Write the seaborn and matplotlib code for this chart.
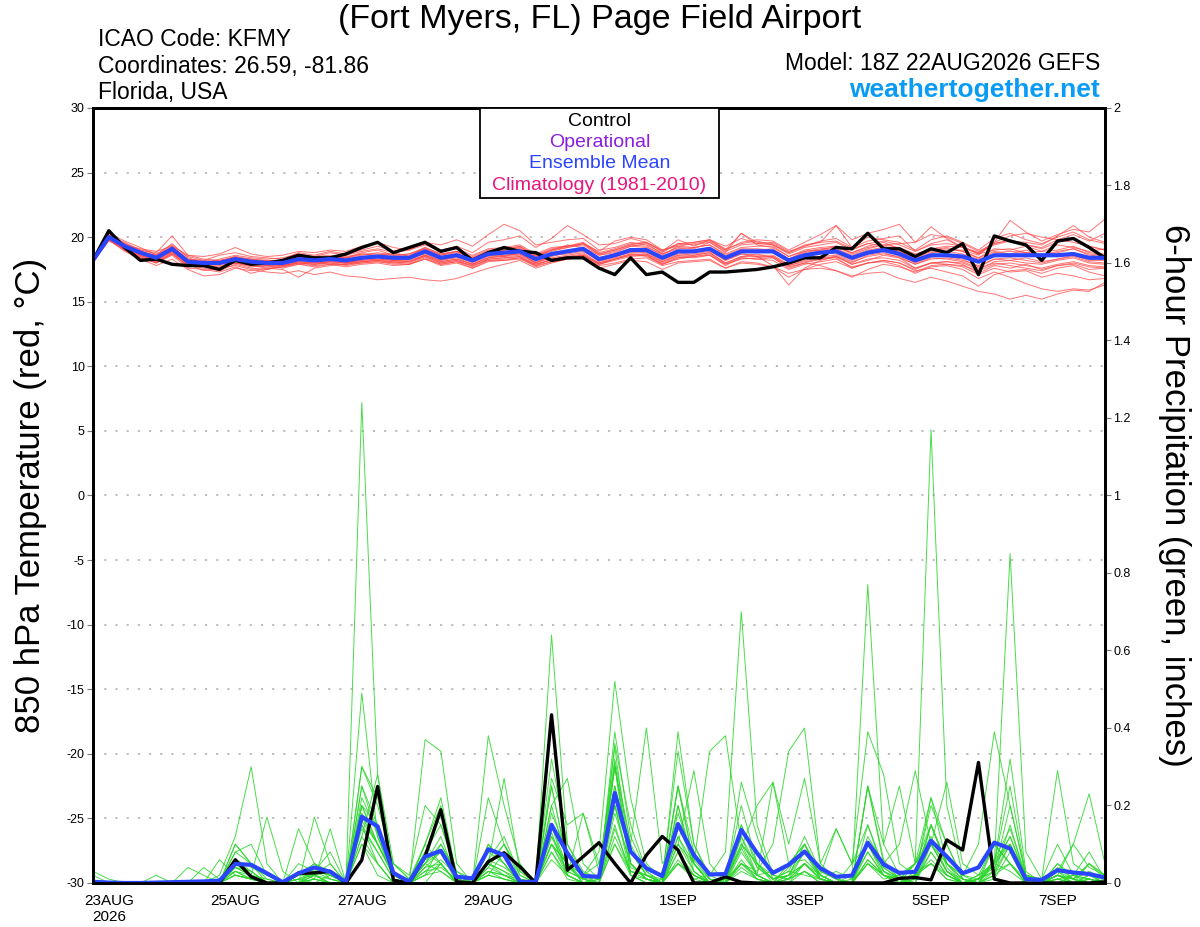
import matplotlib
matplotlib.use('Agg')
import matplotlib.pyplot as plt
from matplotlib.patches import Rectangle
from matplotlib.ticker import FuncFormatter
import pandas as pd
import seaborn as sns

# GEFS 18Z 22AUG2026 run, 6-hourly steps out to 384h
times = pd.date_range('2026-08-22 18:00', periods=65, freq='6h')

tick_dates = pd.to_datetime(['2026-08-23', '2026-08-25', '2026-08-27', '2026-08-29',
                             '2026-09-01', '2026-09-03', '2026-09-05', '2026-09-07'])
tick_labels = ['23AUG\n2026', '25AUG', '27AUG', '29AUG', '1SEP', '3SEP', '5SEP', '7SEP']

temp_ticks = [-30, -25, -20, -15, -10, -5, 0, 5, 10, 15, 20, 25, 30]
precip_ticks = [0, 0.2, 0.4, 0.6, 0.8, 1, 1.2, 1.4, 1.6, 1.8, 2]

legend_labels = ['Control', 'Operational', 'Ensemble Mean', 'Climatology (1981-2010)']
legend_colors = ['black', '#8a1fe0', '#2a45ff', '#e8157d']

##### 850 hPa temperature (C) #####
control_temp = [18.2, 20.5, 19.2, 18.2, 18.3, 17.9, 17.8, 17.8, 17.5, 18.2, 17.9, 18.0, 18.2,
                18.6, 18.4, 18.4, 18.7, 19.2, 19.6, 18.8, 19.2, 19.6, 18.9, 19.2, 18.2, 18.8,
                19.2, 18.9, 18.8, 18.2, 18.4, 18.4, 17.6, 17.1, 18.4, 17.1, 17.3, 16.5, 16.5,
                17.3, 17.3, 17.4, 17.5, 17.7, 18.0, 18.4, 18.4, 19.2, 19.1, 20.3, 19.1, 19.1,
                18.5, 19.1, 18.8, 19.5, 17.1, 20.1, 19.7, 19.4, 18.2, 19.7, 19.9, 19.2, 18.4]

mean_temp = [18.2, 20.0, 19.3, 18.8, 18.4, 19.1, 18.1, 18.0, 18.0, 18.3, 18.1, 18.0, 18.0,
             18.3, 18.2, 18.3, 18.2, 18.4, 18.5, 18.4, 18.4, 18.9, 18.4, 18.6, 18.2, 18.7,
             18.8, 18.9, 18.3, 18.7, 18.9, 19.1, 18.3, 18.6, 19.0, 19.0, 18.4, 18.9, 18.9,
             19.1, 18.4, 18.9, 18.9, 18.9, 18.2, 18.6, 18.8, 18.9, 18.4, 18.8, 19.0, 18.7,
             18.2, 18.6, 18.6, 18.5, 18.1, 18.6, 18.6, 18.6, 18.6, 18.6, 18.7, 18.4, 18.4]

temp_m01 = [18.3, 20.2, 19.5, 19.0, 18.7, 19.4, 18.5, 18.2, 18.6, 18.8, 18.5, 18.4, 18.3,
            18.8, 18.6, 18.9, 18.7, 19.0, 19.3, 18.9, 19.1, 19.5, 19.0, 19.3, 18.8, 19.6,
            19.8, 20.1, 19.2, 19.9, 20.9, 20.2, 19.4, 19.5, 19.9, 19.6, 18.9, 19.8, 19.3,
            19.8, 19.0, 20.3, 19.6, 19.5, 18.8, 19.3, 19.6, 20.9, 19.2, 19.7, 19.9, 20.1,
            18.9, 19.5, 19.8, 19.2, 18.8, 19.6, 21.3, 20.4, 19.7, 20.2, 20.6, 20.4, 21.4]
temp_m02 = [18.1, 19.8, 19.0, 18.5, 18.0, 18.7, 17.8, 17.6, 17.4, 17.9, 17.6, 17.5, 17.7,
            17.9, 17.8, 17.9, 17.7, 17.9, 18.0, 17.8, 17.9, 18.3, 17.8, 18.0, 17.6, 18.1,
            18.2, 18.3, 17.8, 18.1, 18.3, 18.5, 17.8, 18.0, 18.3, 18.4, 17.8, 18.1, 18.2,
            18.3, 17.6, 18.0, 17.9, 17.7, 17.2, 17.5, 17.6, 17.4, 17.0, 17.2, 17.3, 16.8,
            16.5, 16.9, 16.6, 16.2, 15.8, 15.6, 15.2, 15.5, 15.2, 15.6, 15.9, 15.8, 16.5]
temp_m03 = [18.2, 19.9, 19.2, 18.6, 18.2, 18.9, 17.9, 17.4, 17.6, 17.8, 17.5, 17.3, 17.2,
            17.4, 17.1, 17.3, 17.0, 16.9, 16.7, 16.8, 16.9, 16.7, 16.6, 16.8, 17.2, 17.6,
            17.9, 18.2, 17.6, 18.0, 18.3, 18.6, 18.0, 18.4, 18.7, 18.5, 17.9, 18.4, 18.6,
            18.8, 18.0, 18.5, 18.7, 18.4, 17.6, 18.0, 18.3, 18.5, 17.9, 18.2, 18.6, 18.4,
            17.6, 18.0, 18.1, 17.9, 17.2, 17.8, 17.6, 17.9, 17.5, 17.8, 18.0, 17.7, 17.6]
temp_m04 = [18.2, 20.1, 19.6, 19.0, 18.8, 20.1, 18.6, 18.3, 18.2, 18.5, 18.3, 18.2, 18.1,
            18.6, 18.3, 18.4, 18.5, 18.7, 18.6, 18.8, 18.5, 19.2, 18.7, 18.9, 18.3, 18.9,
            19.0, 19.3, 18.5, 19.0, 19.4, 19.2, 18.6, 18.8, 19.3, 19.5, 18.7, 19.2, 19.1,
            19.6, 18.8, 20.3, 19.4, 19.2, 18.5, 18.9, 19.1, 19.2, 18.8, 19.3, 19.6, 19.1,
            18.6, 19.0, 19.2, 18.9, 18.4, 19.1, 19.0, 19.3, 18.9, 19.4, 19.2, 18.9, 19.1]
temp_m05 = [18.2, 19.9, 19.3, 18.9, 18.3, 19.0, 18.0, 17.9, 18.1, 18.2, 17.9, 17.8, 17.9,
            18.1, 18.0, 18.2, 18.0, 18.3, 18.4, 18.2, 18.3, 18.7, 18.2, 18.5, 18.0, 18.6,
            18.5, 18.8, 18.0, 18.5, 18.8, 19.0, 18.1, 18.5, 18.8, 18.9, 18.2, 18.7, 18.8,
            19.0, 18.2, 18.7, 18.5, 17.8, 16.3, 17.6, 18.2, 18.5, 18.0, 18.6, 18.8, 18.4,
            17.9, 18.3, 18.4, 18.2, 17.8, 18.3, 18.4, 18.2, 18.0, 18.3, 18.5, 18.1, 18.0]
temp_m06 = [18.3, 20.0, 19.4, 18.7, 18.5, 19.2, 18.3, 18.1, 17.9, 18.4, 18.2, 18.1, 18.2,
            18.4, 18.5, 18.6, 18.4, 18.8, 19.0, 18.6, 18.7, 19.1, 18.6, 18.9, 18.4, 18.9,
            19.1, 19.2, 18.6, 19.1, 19.3, 19.5, 18.7, 19.0, 19.4, 19.3, 18.6, 19.3, 19.5,
            19.7, 19.0, 19.6, 19.8, 19.7, 19.0, 19.6, 20.2, 20.9, 19.8, 20.3, 20.6, 21.0,
            19.6, 20.2, 20.0, 19.5, 18.9, 19.5, 19.8, 19.4, 19.1, 19.6, 19.9, 19.3, 19.0]
temp_m07 = [18.1, 19.7, 19.1, 18.4, 18.1, 18.8, 17.7, 17.8, 17.7, 18.0, 17.8, 17.7, 17.8,
            18.0, 17.9, 18.0, 17.8, 18.0, 18.1, 18.0, 17.9, 18.4, 17.9, 18.1, 17.8, 18.2,
            18.3, 18.4, 17.9, 18.3, 18.5, 18.6, 17.9, 18.2, 18.5, 18.6, 17.9, 18.3, 18.5,
            18.6, 17.8, 18.4, 18.3, 18.2, 17.5, 17.9, 18.1, 18.3, 17.7, 18.0, 18.2, 18.0,
            17.4, 17.6, 17.3, 17.0, 16.2, 17.1, 17.4, 17.5, 17.2, 17.6, 17.8, 17.3, 17.0]
temp_m08 = [18.2, 20.3, 19.7, 19.2, 18.6, 19.5, 18.4, 18.0, 18.3, 18.6, 18.4, 18.3, 18.4,
            18.7, 18.5, 18.8, 18.6, 18.9, 19.1, 18.8, 19.0, 19.6, 19.4, 19.8, 19.3, 20.2,
            21.0, 20.5, 19.4, 19.6, 19.8, 19.9, 19.0, 19.2, 19.6, 19.4, 18.8, 19.5, 19.4,
            19.6, 18.9, 19.4, 19.5, 19.6, 18.9, 19.3, 19.7, 19.9, 19.2, 20.0, 19.8, 19.6,
            19.0, 19.8, 20.1, 19.6, 19.0, 19.9, 20.3, 19.8, 19.5, 20.0, 20.4, 19.8, 19.5]
temp_m09 = [18.2, 19.8, 18.9, 18.3, 17.8, 18.3, 17.5, 17.0, 17.1, 17.6, 17.4, 17.6, 17.5,
            16.9, 17.6, 17.8, 17.9, 18.1, 18.2, 18.0, 18.1, 18.6, 18.1, 18.3, 17.9, 18.4,
            18.6, 18.7, 18.0, 18.6, 18.9, 19.0, 18.2, 18.6, 19.0, 19.1, 18.4, 19.0, 18.9,
            19.2, 18.4, 18.9, 19.0, 18.8, 18.1, 18.5, 18.8, 18.7, 18.2, 18.7, 19.0, 18.6,
            18.0, 18.5, 18.5, 18.3, 17.7, 18.3, 18.2, 18.4, 18.1, 18.3, 18.6, 18.2, 18.2]
temp_m10 = [18.2, 20.0, 19.2, 18.8, 18.5, 19.1, 18.2, 18.1, 18.0, 18.3, 18.0, 17.9, 18.0,
            18.2, 18.1, 18.3, 18.2, 18.4, 18.5, 18.3, 18.4, 18.8, 18.3, 18.6, 18.1, 18.7,
            18.8, 18.9, 18.2, 18.7, 19.0, 19.2, 18.3, 18.7, 19.1, 19.0, 18.3, 18.9, 19.0,
            19.2, 18.5, 19.0, 19.0, 19.1, 18.3, 18.8, 19.0, 19.3, 18.7, 19.1, 19.4, 19.5,
            19.6, 20.8, 19.9, 19.2, 18.7, 19.0, 19.1, 18.8, 18.9, 19.0, 19.3, 18.8, 18.7]
temp_m11 = [18.2, 19.9, 19.0, 18.6, 18.1, 18.8, 17.9, 17.7, 17.8, 18.0, 17.7, 17.8, 17.6,
            17.9, 17.7, 17.9, 17.9, 18.1, 18.2, 18.1, 18.0, 18.5, 18.0, 18.2, 17.7, 18.3,
            18.4, 18.5, 17.9, 18.2, 18.4, 18.6, 17.9, 18.3, 18.6, 18.7, 18.0, 18.5, 18.4,
            18.6, 17.9, 18.3, 18.4, 18.5, 17.8, 18.1, 18.3, 18.4, 17.6, 18.0, 18.1, 17.8,
            17.2, 17.7, 17.8, 17.5, 16.8, 17.3, 16.9, 16.4, 16.0, 15.8, 16.0, 15.9, 16.3]
temp_m12 = [18.3, 20.1, 19.5, 18.9, 18.6, 19.3, 18.3, 18.2, 18.1, 18.5, 18.2, 18.2, 18.1,
            18.5, 18.3, 18.5, 18.4, 18.6, 18.8, 18.6, 18.6, 19.1, 18.6, 18.8, 18.4, 18.9,
            19.0, 19.1, 18.5, 18.9, 19.2, 19.4, 18.6, 18.9, 19.3, 19.2, 18.7, 19.1, 19.2,
            19.4, 18.7, 19.2, 19.3, 19.3, 18.5, 19.0, 19.2, 19.3, 18.8, 19.2, 19.4, 19.2,
            18.7, 19.1, 19.3, 19.2, 18.8, 19.4, 19.7, 19.6, 19.4, 20.1, 20.9, 20.0, 19.6]
temp_m13 = [18.1, 19.8, 19.1, 18.5, 18.0, 18.6, 17.6, 17.5, 17.3, 17.7, 17.2, 17.5, 17.8,
            18.0, 17.9, 18.1, 18.0, 18.2, 18.3, 18.2, 18.2, 18.6, 18.2, 18.4, 17.9, 18.5,
            18.6, 18.7, 18.1, 18.6, 18.7, 18.9, 18.2, 18.5, 18.9, 18.8, 18.1, 18.6, 18.7,
            18.9, 18.2, 18.7, 18.6, 18.6, 17.9, 18.3, 18.5, 18.6, 18.1, 18.5, 18.7, 18.5,
            17.9, 18.4, 18.3, 18.1, 17.6, 18.0, 17.8, 17.6, 17.4, 17.8, 17.9, 17.5, 17.6]
temp_m14 = [18.2, 20.0, 19.4, 19.1, 18.9, 19.3, 18.6, 18.5, 18.7, 19.2, 18.7, 18.5, 18.6,
            18.9, 18.8, 19.0, 18.9, 19.3, 19.6, 19.2, 19.0, 19.4, 18.9, 19.1, 18.6, 19.1,
            19.2, 19.4, 18.7, 19.2, 19.3, 19.6, 18.8, 19.1, 19.5, 19.6, 19.0, 19.4, 19.6,
            19.8, 19.1, 19.5, 19.7, 19.4, 18.7, 19.2, 19.4, 19.6, 19.0, 19.5, 19.3, 19.0,
            18.5, 19.0, 19.1, 18.9, 18.4, 18.9, 18.7, 19.0, 18.6, 18.8, 19.1, 18.6, 18.5]
temp_m15 = [18.2, 19.9, 19.1, 18.7, 18.3, 18.9, 17.9, 17.9, 17.9, 18.1, 17.9, 17.8, 17.8,
            18.1, 18.0, 18.1, 18.0, 18.1, 18.2, 18.1, 18.1, 18.5, 18.0, 18.2, 17.8, 18.3,
            18.4, 18.5, 17.8, 18.3, 18.5, 18.7, 17.9, 18.3, 18.6, 18.6, 17.9, 18.4, 18.5,
            18.7, 17.9, 18.4, 18.3, 18.4, 17.7, 18.0, 17.8, 17.4, 16.9, 17.5, 17.9, 17.7,
            17.3, 17.8, 17.9, 17.8, 17.4, 17.9, 18.0, 17.8, 17.6, 17.9, 18.1, 17.8, 17.7]
temp_m16 = [18.3, 20.1, 19.3, 18.8, 18.6, 19.2, 18.2, 18.1, 18.2, 18.4, 18.3, 18.1, 18.2,
            18.5, 18.4, 18.5, 18.4, 18.7, 18.7, 18.6, 18.7, 19.2, 18.7, 18.9, 18.5, 19.0,
            19.1, 19.3, 18.6, 19.0, 19.3, 19.5, 18.7, 19.0, 19.4, 19.6, 18.9, 19.5, 19.6,
            19.8, 19.3, 19.9, 19.5, 19.4, 18.8, 19.4, 19.6, 19.7, 19.1, 19.5, 19.7, 19.4,
            18.9, 19.4, 19.5, 19.3, 18.7, 19.5, 19.8, 19.4, 19.2, 19.8, 20.2, 19.7, 20.3]
temp_m17 = [18.2, 19.8, 19.0, 18.4, 18.0, 18.7, 17.8, 17.7, 17.6, 18.0, 17.8, 17.6, 17.7,
            18.0, 17.9, 18.0, 17.9, 18.0, 18.1, 17.9, 17.9, 18.3, 17.9, 18.1, 17.6, 18.2,
            18.2, 18.4, 17.7, 18.1, 18.3, 18.4, 17.6, 17.9, 18.2, 18.1, 17.5, 18.0, 18.1,
            18.2, 17.6, 18.1, 18.0, 17.7, 16.9, 17.5, 17.9, 18.1, 17.6, 18.0, 18.2, 18.0,
            17.5, 18.0, 18.1, 18.0, 17.5, 18.1, 18.2, 18.0, 17.9, 18.2, 18.4, 18.0, 17.9]
temp_m18 = [18.2, 20.2, 19.4, 18.9, 18.5, 19.1, 18.2, 18.1, 18.1, 18.4, 18.2, 18.1, 18.1,
            18.4, 18.3, 18.4, 18.3, 18.5, 18.6, 18.5, 18.5, 19.0, 18.5, 18.7, 18.3, 18.8,
            19.0, 19.1, 18.5, 19.0, 19.2, 19.5, 18.9, 19.7, 20.0, 19.8, 19.0, 19.3, 19.2,
            19.4, 18.6, 19.1, 19.1, 19.0, 18.3, 18.9, 19.0, 19.1, 18.6, 19.0, 19.2, 18.9,
            18.3, 18.8, 18.9, 18.7, 18.3, 18.8, 18.9, 18.8, 18.6, 18.9, 19.1, 18.7, 18.6]
temp_m19 = [18.1, 19.9, 19.2, 18.6, 18.2, 18.9, 18.0, 17.8, 17.9, 18.1, 17.9, 17.9, 17.8,
            18.1, 18.0, 18.1, 18.0, 18.2, 18.3, 18.2, 18.1, 18.6, 18.1, 18.3, 17.9, 18.4,
            18.5, 18.6, 18.0, 18.4, 18.6, 18.8, 18.0, 18.3, 18.7, 18.7, 18.1, 18.6, 18.6,
            18.8, 18.0, 18.5, 18.5, 18.5, 17.8, 18.2, 18.4, 18.5, 17.9, 18.3, 18.4, 18.2,
            17.6, 18.0, 17.9, 17.7, 17.1, 17.6, 17.3, 17.4, 16.9, 17.2, 17.0, 16.7, 16.8]
temp_m20 = [18.2, 20.0, 19.3, 18.7, 18.4, 19.0, 18.1, 18.0, 18.0, 18.3, 18.1, 18.0, 18.0,
            18.3, 18.2, 18.3, 18.2, 18.4, 18.5, 18.4, 18.4, 18.9, 18.4, 18.6, 18.2, 18.7,
            18.8, 18.9, 18.3, 18.7, 18.9, 19.1, 18.4, 18.7, 19.0, 19.0, 18.4, 18.9, 18.9,
            19.1, 18.4, 18.9, 18.9, 18.9, 18.2, 18.7, 18.9, 19.0, 18.5, 18.9, 19.1, 18.9,
            18.4, 18.9, 19.0, 19.0, 18.6, 19.6, 20.1, 20.3, 20.0, 19.8, 19.6, 19.3, 19.0]

##### 6-hour precipitation (inches) #####
control_precip = [0, 0, 0, 0, 0, 0, 0, 0, 0, 0.06, 0.016, 0, 0,
                  0.025, 0.026, 0.03, 0, 0.059, 0.249, 0.007, 0, 0.068, 0.189, 0.003, 0, 0.055,
                  0.078, 0.042, 0, 0.434, 0.033, 0.068, 0.104, 0.05, 0, 0.072, 0.12, 0.085, 0,
                  0, 0.016, 0.002, 0, 0, 0, 0, 0, 0, 0, 0, 0, 0.012,
                  0.014, 0.008, 0.111, 0.085, 0.311, 0.01, 0, 0, 0, 0, 0, 0, 0.003]

mean_precip = [0.003, 0.001, 0, 0, 0.001, 0.002, 0.003, 0.004, 0.006, 0.049, 0.047, 0.025, 0.002,
               0.025, 0.04, 0.029, 0.002, 0.171, 0.146, 0.026, 0.003, 0.068, 0.083, 0.016, 0.012, 0.087,
               0.072, 0.003, 0.003, 0.15, 0.077, 0.018, 0.016, 0.232, 0.081, 0.038, 0.018, 0.152, 0.072,
               0.022, 0.023, 0.137, 0.077, 0.026, 0.047, 0.081, 0.038, 0.016, 0.019, 0.104, 0.048, 0.026,
               0.029, 0.109, 0.068, 0.025, 0.04, 0.104, 0.089, 0.01, 0.008, 0.033, 0.027, 0.023, 0.014]

precip_m01 = [0, 0, 0, 0, 0, 0, 0, 0, 0.01, 0.06, 0.03, 0, 0, 0.02, 0.05, 0.01, 0, 1.24, 0.28, 0.02,
              0, 0.04, 0.08, 0.01, 0, 0.06, 0.12, 0.02, 0, 0.15, 0.04, 0.01, 0.02, 0.31, 0.05, 0.01,
              0, 0.2, 0.03, 0, 0.01, 0.09, 0.02, 0, 0.04, 0.08, 0.01, 0, 0, 0.06, 0.02, 0, 0.01, 0.1,
              0.03, 0, 0.01, 0.05, 0.12, 0.01, 0, 0.03, 0.01, 0, 0.02]
precip_m02 = [0.03, 0.01, 0, 0, 0, 0, 0, 0, 0, 0.1, 0.05, 0.01, 0, 0, 0.02, 0.03, 0, 0.49, 0.12, 0.01,
              0, 0.1, 0.22, 0.02, 0, 0.05, 0.03, 0.01, 0, 0.64, 0.1, 0.02, 0.05, 0.2, 0.08, 0.02,
              0, 0.1, 0.05, 0.01, 0, 0.15, 0.04, 0.01, 0.02, 0.1, 0.02, 0, 0, 0.25, 0.06, 0.01, 0, 0.08,
              0.02, 0, 0.02, 0.1, 0.05, 0, 0, 0.02, 0, 0.05, 0.01]
precip_m03 = [0, 0, 0, 0, 0, 0, 0, 0, 0.02, 0.12, 0.3, 0.05, 0, 0.01, 0, 0, 0, 0.2, 0.1, 0.02,
              0, 0, 0.05, 0, 0, 0.02, 0.08, 0, 0, 0.25, 0.05, 0, 0.01, 0.39, 0.12, 0.03,
              0, 0.05, 0.01, 0.02, 0.08, 0.7, 0.15, 0.02, 0.01, 0.03, 0, 0, 0.02, 0.1, 0.03, 0, 0.02, 0.05,
              0.01, 0, 0, 0.02, 0.1, 0.02, 0, 0.01, 0, 0.02, 0]
precip_m04 = [0, 0, 0, 0, 0, 0, 0, 0, 0, 0.05, 0.02, 0, 0, 0.03, 0.02, 0, 0, 0.15, 0.05, 0,
              0, 0.02, 0.1, 0.03, 0, 0.1, 0.05, 0, 0, 0.12, 0.05, 0.01, 0, 0.1, 0.03, 0.02,
              0.01, 0.25, 0.05, 0, 0, 0.06, 0.01, 0, 0.02, 0.05, 0.01, 0.03, 0.01, 0.08, 0.02, 0.01, 0.05, 1.17,
              0.2, 0.02, 0, 0.06, 0.1, 0, 0, 0.05, 0.01, 0.03, 0.01]
precip_m05 = [0, 0, 0, 0, 0, 0, 0, 0, 0, 0.03, 0.01, 0, 0, 0, 0.04, 0.02, 0, 0.3, 0.2, 0.05,
              0.01, 0.05, 0.03, 0, 0, 0.04, 0.1, 0.03, 0, 0.2, 0.27, 0.05, 0.01, 0.25, 0.05, 0.01,
              0, 0.05, 0.02, 0, 0.01, 0.1, 0.05, 0.01, 0.03, 0.02, 0.01, 0, 0.01, 0.77, 0.1, 0.02, 0, 0.1,
              0.03, 0.01, 0, 0.03, 0.2, 0.02, 0, 0.01, 0.02, 0, 0]
precip_m06 = [0, 0, 0, 0, 0, 0, 0, 0, 0, 0.08, 0.1, 0.02, 0, 0.05, 0.03, 0.01, 0, 0.1, 0.05, 0,
              0, 0.37, 0.34, 0.05, 0, 0.02, 0.01, 0, 0, 0.1, 0.02, 0, 0, 0.15, 0.02, 0,
              0, 0.08, 0.02, 0, 0, 0.05, 0.01, 0, 0, 0.05, 0.01, 0, 0, 0.1, 0.04, 0.01, 0.02, 0.2,
              0.1, 0.01, 0, 0.05, 0.85, 0.08, 0.01, 0, 0.02, 0.01, 0]
precip_m07 = [0, 0, 0, 0, 0, 0, 0, 0, 0.01, 0.04, 0.02, 0.17, 0.03, 0, 0.01, 0, 0, 0.18, 0.1, 0.02,
              0.01, 0.1, 0.05, 0, 0, 0.38, 0.2, 0.05, 0, 0.32, 0.1, 0.03, 0.01, 0.3, 0.1, 0.4,
              0.05, 0.1, 0.03, 0, 0.01, 0.2, 0.05, 0, 0.02, 0.1, 0.03, 0.01, 0, 0.05, 0.01, 0.02, 0.05, 0.15,
              0.05, 0, 0.01, 0.1, 0.05, 0, 0, 0.03, 0, 0.01, 0]
precip_m08 = [0, 0, 0, 0, 0, 0, 0, 0, 0, 0.02, 0.01, 0, 0, 0.14, 0.05, 0.02, 0, 0.12, 0.28, 0.05,
              0.01, 0.05, 0.1, 0.02, 0, 0.05, 0.02, 0, 0, 0.1, 0.05, 0, 0.02, 0.35, 0.05, 0.01,
              0, 0.12, 0.05, 0.34, 0.38, 0.1, 0.02, 0, 0.01, 0.08, 0.02, 0, 0, 0.12, 0.05, 0.01, 0.02, 0.05,
              0.02, 0, 0.01, 0.03, 0.1, 0.01, 0, 0.02, 0.01, 0.05, 0.02]
precip_m09 = [0, 0, 0, 0, 0, 0, 0.04, 0.02, 0, 0.1, 0.05, 0.02, 0, 0, 0.17, 0.05, 0, 0.25, 0.15, 0.03,
              0, 0.08, 0.15, 0.03, 0.01, 0.05, 0.1, 0.01, 0, 0.25, 0.05, 0.02, 0.01, 0.2, 0.02, 0,
              0.01, 0.05, 0.02, 0, 0.01, 0.05, 0.03, 0.1, 0.34, 0.4, 0.05, 0.01, 0, 0.08, 0.02, 0, 0.05, 0.12,
              0.03, 0, 0.02, 0.05, 0.03, 0, 0, 0.02, 0.01, 0, 0.01]
precip_m10 = [0, 0, 0, 0, 0, 0, 0, 0, 0, 0.05, 0.02, 0.01, 0, 0.03, 0.01, 0.14, 0, 0.2, 0.1, 0.02,
              0, 0.05, 0.08, 0, 0, 0.03, 0.01, 0, 0, 0.18, 0.08, 0.02, 0.08, 0.52, 0.22, 0.05,
              0.01, 0.34, 0.1, 0.01, 0, 0.08, 0.02, 0, 0.05, 0.1, 0.02, 0.14, 0.05, 0.15, 0.03, 0.01, 0.02, 0.22,
              0.05, 0.01, 0, 0.1, 0.05, 0, 0, 0.02, 0.01, 0, 0]
precip_m11 = [0, 0, 0, 0, 0, 0, 0, 0.04, 0.01, 0.03, 0.02, 0, 0, 0, 0.02, 0.05, 0, 0.1, 0.02, 0,
              0, 0.03, 0.06, 0.02, 0, 0.1, 0.05, 0, 0, 0.12, 0.03, 0.01, 0, 0.14, 0.03, 0.02,
              0, 0.15, 0.05, 0, 0, 0.12, 0.02, 0.03, 0.05, 0.1, 0.01, 0, 0, 0.05, 0.02, 0.01, 0.05, 0.1,
              0.05, 0.02, 0.1, 0.39, 0.2, 0.02, 0.01, 0.29, 0.05, 0.02, 0.01]
precip_m12 = [0.02, 0, 0, 0, 0, 0, 0, 0, 0, 0.08, 0.05, 0, 0, 0.02, 0.05, 0.03, 0, 0.15, 0.08, 0.01,
              0, 0.1, 0.2, 0.02, 0, 0.05, 0.03, 0, 0, 0.2, 0.05, 0, 0, 0.3, 0.05, 0.01,
              0, 0.39, 0.1, 0.02, 0, 0.1, 0.05, 0.01, 0.02, 0.08, 0.02, 0, 0, 0.1, 0.05, 0.1, 0.29, 0.1,
              0.03, 0, 0, 0.02, 0.15, 0.01, 0, 0.05, 0.02, 0.01, 0]
precip_m13 = [0, 0, 0, 0, 0, 0, 0, 0, 0.06, 0.02, 0.01, 0, 0, 0, 0.03, 0.08, 0, 0.25, 0.12, 0.02,
              0, 0.05, 0.12, 0.01, 0, 0.08, 0.05, 0, 0, 0.15, 0.02, 0.18, 0.05, 0.25, 0.08, 0.02,
              0, 0.2, 0.05, 0, 0, 0.15, 0.05, 0.02, 0.01, 0.05, 0.02, 0, 0.05, 0.39, 0.28, 0.05, 0.02, 0.15,
              0.05, 0.01, 0, 0.05, 0.1, 0.02, 0, 0.02, 0.1, 0.23, 0.05]
precip_m14 = [0, 0, 0, 0, 0, 0, 0, 0, 0, 0.04, 0.03, 0, 0, 0, 0.02, 0, 0, 0.3, 0.22, 0.03,
              0, 0.02, 0.05, 0, 0, 0.03, 0.02, 0, 0, 0.1, 0.05, 0.02, 0, 0.18, 0.05, 0.01,
              0, 0.12, 0.03, 0, 0, 0.26, 0.12, 0.01, 0.02, 0.05, 0.01, 0, 0, 0.25, 0.1, 0.25, 0.05, 0.1,
              0.26, 0.05, 0.02, 0.05, 0.32, 0.03, 0, 0.01, 0, 0.02, 0]
precip_m15 = [0, 0, 0, 0, 0, 0, 0, 0, 0, 0.06, 0.04, 0.02, 0, 0.02, 0.02, 0, 0, 0.17, 0.1, 0.02,
              0.01, 0.08, 0.05, 0, 0, 0.05, 0.27, 0.03, 0, 0.1, 0.03, 0.01, 0, 0.3, 0.02, 0.01,
              0, 0.25, 0.08, 0.01, 0, 0.05, 0.02, 0.26, 0.1, 0.27, 0.05, 0.14, 0.05, 0.1, 0.02, 0, 0.03, 0.05,
              0.01, 0, 0.01, 0.05, 0.25, 0.02, 0, 0.02, 0, 0.01, 0]
precip_m16 = [0, 0, 0, 0, 0.02, 0, 0, 0, 0, 0.02, 0.01, 0, 0, 0, 0.01, 0, 0, 0.12, 0.05, 0,
              0, 0.02, 0.03, 0, 0, 0.02, 0.01, 0, 0, 0.08, 0.02, 0, 0, 0.1, 0.02, 0,
              0, 0.06, 0.01, 0, 0, 0.03, 0.01, 0, 0.01, 0.05, 0.01, 0, 0, 0.25, 0.05, 0.02, 0.05, 0.22,
              0.1, 0.01, 0, 0.02, 0.05, 0, 0, 0.01, 0, 0, 0]
precip_m17 = [0, 0, 0, 0, 0, 0, 0, 0, 0, 0.03, 0.01, 0, 0, 0, 0, 0.02, 0, 0.2, 0.15, 0.05,
              0.02, 0.2, 0.15, 0.02, 0, 0.22, 0.1, 0.02, 0, 0.06, 0.02, 0, 0, 0.12, 0.03, 0.01,
              0, 0.25, 0.05, 0, 0, 0.04, 0.01, 0, 0.01, 0.03, 0, 0, 0, 0.05, 0.02, 0, 0.01, 0.08,
              0.02, 0, 0, 0.01, 0.08, 0, 0, 0.04, 0.01, 0.05, 0.02]
precip_m18 = [0, 0, 0, 0, 0, 0, 0, 0, 0, 0.02, 0.01, 0, 0, 0.01, 0.02, 0.01, 0, 0.14, 0.08, 0.01,
              0, 0.03, 0.04, 0.01, 0, 0.04, 0.02, 0.01, 0, 0.13, 0.02, 0, 0.01, 0.36, 0.15, 0.03,
              0, 0.1, 0.29, 0.05, 0, 0.05, 0.02, 0, 0, 0.03, 0.01, 0, 0, 0.06, 0.02, 0, 0.02, 0.06,
              0.02, 0, 0.01, 0.03, 0.05, 0.01, 0, 0.02, 0, 0.01, 0]
precip_m19 = [0, 0, 0, 0, 0, 0, 0, 0, 0, 0.04, 0.02, 0, 0, 0, 0.01, 0, 0, 0.16, 0.1, 0.02,
              0, 0.04, 0.05, 0, 0, 0.03, 0.02, 0, 0, 0.08, 0.01, 0, 0, 0.2, 0.04, 0.02,
              0, 0.08, 0.02, 0, 0, 0.09, 0.2, 0.26, 0.05, 0.06, 0.02, 0, 0, 0.1, 0.03, 0.01, 0, 0.15,
              0.05, 0.02, 0.01, 0.04, 0.12, 0.02, 0.01, 0.1, 0.02, 0.08, 0.01]
precip_m20 = [0, 0, 0, 0, 0, 0, 0, 0, 0, 0.05, 0.03, 0, 0, 0.01, 0.03, 0.02, 0, 0.22, 0.13, 0.02,
              0.01, 0.06, 0.08, 0.01, 0, 0.06, 0.04, 0.01, 0, 0.27, 0.15, 0.18, 0.03, 0.32, 0.1, 0.02,
              0, 0.18, 0.06, 0.01, 0, 0.12, 0.04, 0.01, 0.03, 0.12, 0.03, 0.01, 0, 0.15, 0.04, 0.01, 0.02, 0.15,
              0.04, 0, 0.01, 0.06, 0.14, 0.02, 0, 0.03, 0.1, 0.04, 0.02]

temp_members = [temp_m01, temp_m02, temp_m03, temp_m04, temp_m05, temp_m06, temp_m07,
                temp_m08, temp_m09, temp_m10, temp_m11, temp_m12, temp_m13, temp_m14,
                temp_m15, temp_m16, temp_m17, temp_m18, temp_m19, temp_m20]
precip_members = [precip_m01, precip_m02, precip_m03, precip_m04, precip_m05, precip_m06,
                  precip_m07, precip_m08, precip_m09, precip_m10, precip_m11, precip_m12,
                  precip_m13, precip_m14, precip_m15, precip_m16, precip_m17, precip_m18,
                  precip_m19, precip_m20]


def long_frame(rows):
    # one row per (member, time) so seaborn can draw every member as its own unit
    frames = []
    for k, vals in enumerate(rows):
        frames.append(pd.DataFrame({'time': times, 'value': vals, 'member': k}))
    return pd.concat(frames, ignore_index=True)


sns.set_style('white')
plt.rcParams['font.family'] = ['Liberation Sans', 'DejaVu Sans']
plt.rcParams['axes.unicode_minus'] = False
# seaborn greys the text; the original is plain black
plt.rcParams['text.color'] = 'black'
plt.rcParams['axes.labelcolor'] = 'black'
plt.rcParams['xtick.color'] = 'black'
plt.rcParams['ytick.color'] = 'black'

fig = plt.figure(figsize=(12, 9.27), dpi=100)
ax = fig.add_axes([0.0775, 0.0475, 0.8433, 0.836])
ax2 = ax.twinx()

# temperature on the left axis
sns.lineplot(data=long_frame(temp_members), x='time', y='value', units='member',
             estimator=None, color='#ff4646', lw=0.7, alpha=0.75, legend=False, ax=ax)
sns.lineplot(x=times, y=control_temp, color='black', lw=2.4, ax=ax)
sns.lineplot(x=times, y=mean_temp, color='#2a45ff', lw=3.0, ax=ax)

# precipitation on the right axis
sns.lineplot(data=long_frame(precip_members), x='time', y='value', units='member',
             estimator=None, color='#2ad62a', lw=0.7, alpha=0.85, legend=False, ax=ax2)
sns.lineplot(x=times, y=control_precip, color='black', lw=2.4, ax=ax2)
sns.lineplot(x=times, y=mean_precip, color='#2a45ff', lw=3.0, ax=ax2)

ax.set_xlim(times[0], times[-1])
ax.set_ylim(-30, 30)
ax2.set_ylim(0, 2)

ax.set_yticks(temp_ticks)
ax2.set_yticks(precip_ticks)
ax2.yaxis.set_major_formatter(FuncFormatter(lambda v, p: '%g' % v))
ax.set_xticks(tick_dates)
ax.set_xticklabels(tick_labels)

ax.yaxis.grid(True, color='#b8b8b8', linestyle=(0, (1.2, 5)), lw=1.3)
ax.xaxis.grid(False)
ax2.grid(False)

ax.tick_params(axis='y', labelsize=9, length=4, width=0.8, color='#777777', labelcolor='black', pad=2)
ax2.tick_params(axis='y', labelsize=9, length=4, width=0.8, color='#777777', labelcolor='black', pad=2)
ax.tick_params(axis='x', labelsize=11, length=5, width=1, color='black', labelcolor='black', pad=3)
for a in (ax, ax2):
    for sp in a.spines.values():
        sp.set_linewidth(2.0)
        sp.set_color('black')

ax.set_xlabel('')
ax.set_ylabel('850 hPa Temperature (red, °C)', fontsize=25, va='center', color='black')
ax.yaxis.set_label_coords(-0.062, 0.5)
ax2.set_ylabel('6-hour Precipitation (green, inches)', fontsize=25, rotation=270, va='center',
               color='black')
ax2.yaxis.set_label_coords(1.069, 0.5)

# legend box: centred coloured labels, no line samples
ax2.add_patch(Rectangle((0.3824, 0.8839), 0.2362, 0.1161, transform=ax2.transAxes,
                        facecolor='white', edgecolor='black', lw=1.3, zorder=5))
legend_y = [0.9832, 0.9561, 0.929, 0.9006]
for lab, col, yy in zip(legend_labels, legend_colors, legend_y):
    ax2.text(0.5005, yy, lab, color=col, fontsize=14, ha='center', va='center',
             transform=ax2.transAxes, zorder=6)

# header texts
fig.text(0.5, 0.9795, '(Fort Myers, FL) Page Field Airport', ha='center', va='center',
         fontsize=24.5, color='black')
fig.text(0.0817, 0.9569, 'ICAO Code: KFMY', ha='left', va='center', fontsize=16.5, color='black')
fig.text(0.0817, 0.9288, 'Coordinates: 26.59, -81.86', ha='left', va='center', fontsize=16.5,
         color='black')
fig.text(0.0817, 0.8997, 'Florida, USA', ha='left', va='center', fontsize=16.5, color='black')
fig.text(0.9167, 0.932, 'Model: 18Z 22AUG2026 GEFS', ha='right', va='center', fontsize=16.5,
         color='black')
fig.text(0.9167, 0.9029, 'weathertogether.net', ha='right', va='center', fontsize=19,
         fontweight='bold', color='#0a9cf5')

fig.savefig('out.png', dpi=100)
